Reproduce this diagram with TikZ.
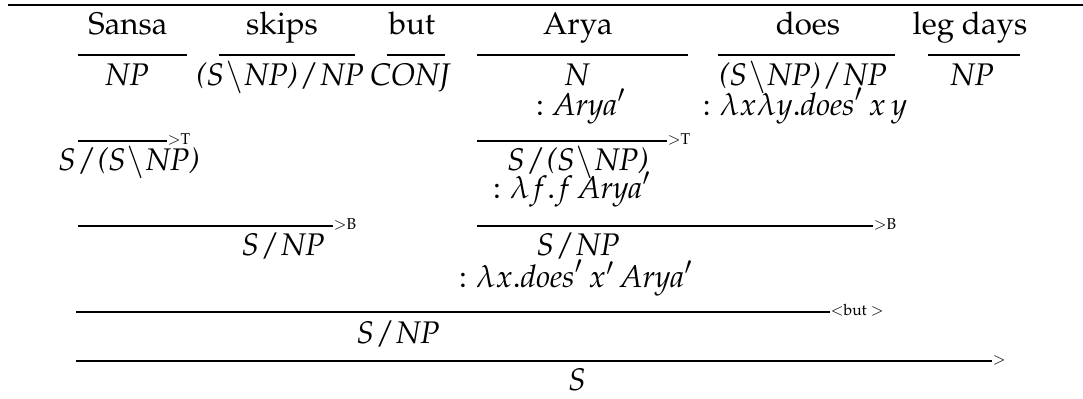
\documentclass[tikz,border=0pt]{standalone}
\usepackage[T1]{fontenc}
\usepackage{mathpazo}
\renewcommand{\rmdefault}{ppl}
\newcommand{\cfs}{\kern0.4pt$/$\kern0.4pt}
\newcommand{\cbs}{\kern0.5pt$\backslash$\kern0.5pt}
\begin{document}
\begin{tikzpicture}[x=0.32pt,y=-0.32pt,
  txt/.style={anchor=base,inner sep=0pt,font=\fontsize{10}{12}\selectfont},
  cat/.style={txt,font=\fontsize{10}{12}\selectfont\itshape},
  bar/.style={line width=0.5pt},
  lbl/.style={anchor=base west,inner sep=0pt,font=\tiny,yshift=-1.2pt}]
\useasboundingbox (0,0) rectangle (1083,398);
% top rule
\coordinate (r0) at (8,5); \coordinate (r1) at (1083,5);
\draw[bar] (r0) -- (r1);
% words
\node[txt] (w1) at (128,34) {Sansa};
\node[txt] (w2) at (282,34) {skips};
\node[txt] (w3) at (412,34) {but};
\node[txt] (w4) at (578,34) {Arya};
\node[txt] (w5) at (808,34) {does};
\node[txt] (w6) at (970,34) {leg days};
% lexical bars
\draw[bar] (78,55) -- (187,55);
\draw[bar] (219,55) -- (355,55);
\draw[bar] (387,55) -- (445,55);
\draw[bar] (477,55) -- (688,55);
\draw[bar] (718,55) -- (895,55);
\draw[bar] (928,55) -- (1020,55);
% categories
\node[cat] (c1) at (127,85) {NP};
\node[cat] (c2) at (280,85) {(S\cbs NP)\cfs NP};
\node[cat] (c3) at (410,85) {CONJ};
\node[cat] (c4) at (577,85) {N};
\node[cat] (c5) at (803,85) {(S\cbs NP)\cfs NP};
\node[cat] (c6) at (972,85) {NP};
\node[txt] (s4) at (581,115) {$:\mathit{Arya}'$};
\node[txt] (s5) at (805,115) {$:\lambda x\lambda y.\mathit{does}'\,x\,y$};
% type raising
\draw[bar] (78,141) -- coordinate[pos=1] (t1) (167,141);
\node[lbl] (t1l) at (t1) {$>$T};
\node[cat] (d1) at (129,170) {S\cfs(S\cbs NP)};
\draw[bar] (477,141) -- coordinate[pos=1] (t2) (667,141);
\node[lbl] (t2l) at (t2) {$>$T};
\node[cat] (d2) at (578,170) {S\cfs(S\cbs NP)};
\node[txt] (d2s) at (572,198) {$:\lambda f.f\,\mathit{Arya}'$};
% composition
\draw[bar] (78,226) -- coordinate[pos=1] (b1) (333,226);
\node[lbl] (b1l) at (b1) {$>$B};
\node[cat] (e1) at (283,255) {S\cfs NP};
\draw[bar] (477,226) -- coordinate[pos=1] (b2) (873,226);
\node[lbl] (b2l) at (b2) {$>$B};
\node[cat] (e2) at (578,255) {S\cfs NP};
\node[txt] (e2s) at (576,287) {$:\lambda x.\mathit{does}'\,x'\,\mathit{Arya}'$};
% coordination
\draw[bar] (76,312) -- coordinate[pos=1] (k1) (830,312);
\node[lbl] (k1l) at (k1) {$<$but $>$};
\node[cat] (f1) at (398,343) {S\cfs NP};
% application
\draw[bar] (76,361) -- coordinate[pos=1] (a1) (992,361);
\node[lbl] (a1l) at (a1) {$>$};
\node[cat] (g1) at (577,390) {S};
\end{tikzpicture}
\end{document}
